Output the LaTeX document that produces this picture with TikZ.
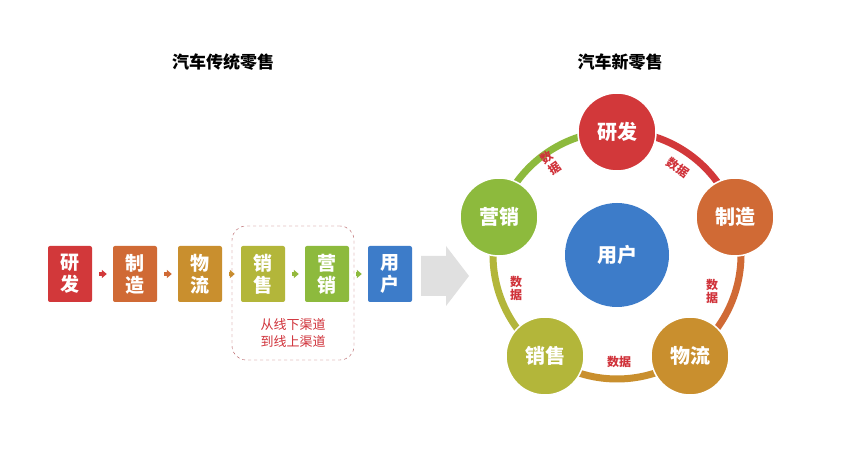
\documentclass[tikz,border=0pt]{standalone}
\usepackage{fontspec}
\setmainfont{Noto Sans CJK SC}
\usetikzlibrary{arrows.meta, positioning}

\definecolor{cyf}{HTML}{D2383A}
\definecolor{czz}{HTML}{D06A35}
\definecolor{cwl}{HTML}{C98F2E}
\definecolor{cxs}{HTML}{B3B63A}
\definecolor{cyx}{HTML}{8DBA3D}
\definecolor{cyh}{HTML}{3D7CC9}
\definecolor{cdata}{HTML}{D0323A}

\begin{document}
\begin{tikzpicture}[x=1pt, y=-1pt, >=Triangle, font=\fontsize{17}{19}\selectfont]
  \tikzstyle{chainbox}=[rounded corners=2pt, text=white, align=center, minimum width=44pt, minimum height=56pt, inner sep=1pt, font=\fontsize{19}{22}\selectfont\bfseries]
  \tikzstyle{stepball}=[circle, draw=white, line width=1.5pt, text=white, minimum size=78pt, inner sep=0pt, font=\fontsize{20}{22}\selectfont\bfseries]
  \tikzstyle{chainarrow}=[-{Triangle[length=5pt,width=8pt]}, line width=3.5pt, shorten <=7pt, shorten >=6pt]
  \tikzstyle{datalabel}=[text=cdata, font=\fontsize{12}{13}\selectfont\bfseries, align=center, inner sep=0pt]
  \useasboundingbox[fill=white] (0,0) rectangle (852,462);

  % titles
  \node[font=\fontsize{17}{19}\selectfont\bfseries] (tl) at (223,62) {汽车传统零售};
  \node[font=\fontsize{17}{19}\selectfont\bfseries] (tr) at (620,62) {汽车新零售};

  % traditional chain (left -> right)
  \node[chainbox, fill=cyf] (a1) at (70,274) {研\\发};
  \node[chainbox, fill=czz] (a2) at (135,274) {制\\造};
  \node[chainbox, fill=cwl] (a3) at (200,274) {物\\流};
  \node[chainbox, fill=cxs] (a4) at (263,274) {销\\售};
  \node[chainbox, fill=cyx] (a5) at (327,274) {营\\销};
  \node[chainbox, fill=cyh] (a6) at (390,274) {用\\户};

  \draw[chainarrow, cyf] (a1) -- (a2);
  \draw[chainarrow, czz] (a2) -- (a3);
  \draw[chainarrow, cwl] (a3) -- (a4);
  \draw[chainarrow, cyx!80!cxs] (a4) -- (a5);
  \draw[chainarrow, cyx] (a5) -- (a6);

  \node[draw=cdata!60!gray, dashed, rounded corners=14pt, minimum width=122pt, minimum height=134pt] (chan) at (293,293) {};
  \node[text=cdata, font=\fontsize{13}{17}\selectfont, align=center] (chantxt) at (293,333) {从线下渠道\\到线上渠道};

  % big gray arrow
  \fill[black!12] (421,256) -- (446,256) -- (446,246) -- (469,276) -- (446,306) -- (446,296) -- (421,296) -- cycle;

  % new retail ring
  \coordinate (ctr) at (617,255);
  \draw[line width=7pt, cyf] (ctr) ++(-90:124) arc[start angle=-90, end angle=-18, radius=124];
  \draw[line width=7pt, czz] (ctr) ++(-18:124) arc[start angle=-18, end angle=54, radius=124];
  \draw[line width=7pt, cwl] (ctr) ++(54:124) arc[start angle=54, end angle=126, radius=124];
  \draw[line width=7pt, cxs] (ctr) ++(126:124) arc[start angle=126, end angle=198, radius=124];
  \draw[line width=7pt, cyx] (ctr) ++(198:124) arc[start angle=198, end angle=270, radius=124];

  \node[circle, fill=cyh, minimum size=104pt, text=white, font=\fontsize{20}{22}\selectfont\bfseries] (user) at (ctr) {用户};
  \node[stepball, fill=cyf] (b1) at (617,132) {研发};
  \node[stepball, fill=czz] (b2) at (735,217) {制造};
  \node[stepball, fill=cwl] (b3) at (690,356) {物流};
  \node[stepball, fill=cxs] (b4) at (545,356) {销售};
  \node[stepball, fill=cyx] (b5) at (499,217) {营销};

  \node[datalabel, rotate=-35] (d1) at (678,168) {数据};
  \node[datalabel] (d2) at (712,291) {数\\据};
  \node[datalabel] (d3) at (619,362) {数据};
  \node[datalabel] (d4) at (516,288) {数\\据};
  \node[datalabel, rotate=35] (d5) at (551,163) {数\\据};
\end{tikzpicture}
\end{document}
